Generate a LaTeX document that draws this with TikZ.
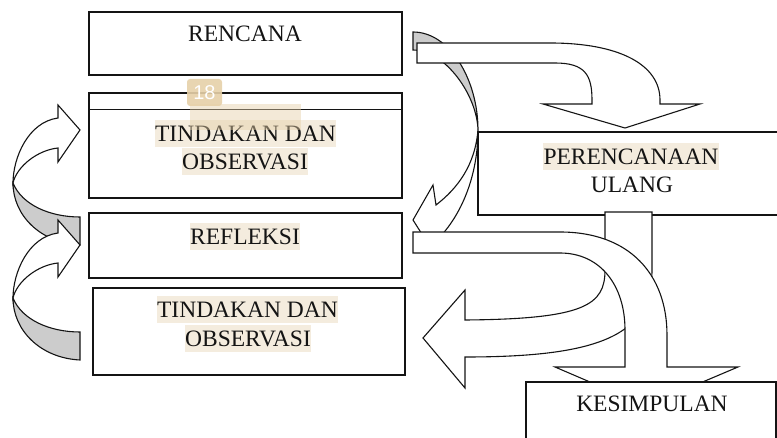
\documentclass[tikz,border=0pt]{standalone}
\usepackage{fontspec}
\setmainfont{Liberation Serif}
\newfontfamily\badgefont{Liberation Sans}
\definecolor{hl}{RGB}{244,236,222}
\definecolor{badgecol}{RGB}{230,208,168}
\definecolor{shade}{RGB}{204,204,204}
\definecolor{ink}{RGB}{20,20,20}
\begin{document}
\begin{tikzpicture}[x=1pt,y=-1pt,
  box/.style={draw=ink, line width=1.3pt, fill=white, rectangle, inner sep=0pt},
  arr/.style={draw=ink, line width=1.1pt, fill=white, line join=miter},
  back/.style={arr, fill=shade},
  lbl/.style={font=\fontsize{23.5}{28}\selectfont, text=ink, anchor=base, inner sep=0.5pt, text height=21.5pt, text depth=4.5pt},
  hlbl/.style={lbl, fill=hl}]
\useasboundingbox (0,0) rectangle (777,438);
\clip (0,0) rectangle (777,438);

% left boxes
\node[box, minimum width=313pt, minimum height=63pt] (rencana) at (245.5,43.5) {};
\node[box, minimum width=313pt, minimum height=105pt] (tind1) at (245.5,145.5) {};
\draw[line width=1.3pt, draw=ink] ([yshift=-17pt]tind1.north west) -- ([yshift=-17pt]tind1.north east);
\node[box, minimum width=313pt, minimum height=65pt] (refl) at (245.5,245.5) {};
\node[box, minimum width=312pt, minimum height=87pt] (tind2) at (249,331.5) {};

% left curved arrows
\foreach \dy in {0,115} {
  \begin{scope}[shift={(0,\dy)}]
    \draw[back] (13,183) .. controls (22,205) and (50,217) .. (80,217) -- (80,245)
      .. controls (40,243) and (13,215) .. (13,183) -- cycle;
    \draw[arr] (13,183) .. controls (13,158) and (28,122) .. (58,118) -- (58,105) -- (80,130)
      -- (58,162) -- (58,148) .. controls (38,150) and (17,166) .. (13,183) -- cycle;
  \end{scope}
}

% right boxes
\node[box, minimum width=322pt, minimum height=83pt] (peren) at (639,173.5) {};

% arrow from PERENCANAAN ULANG to TINDAKAN (with tail rectangle)
\draw[arr] (605,212) -- (652,212) -- (652,270) .. controls (652,335) and (600,357) .. (465,357)
  -- (465,388) -- (423,338) -- (465,290) -- (465,320)
  .. controls (585,319) and (605,305) .. (605,270) -- cycle;

% curved arrow from top to REFLEKSI: back (shaded) part
\draw[back] (413,32) .. controls (450,32) and (478,80) .. (478,130)
  .. controls (477,95) and (445,50) .. (413,50) -- cycle;

% arrow RENCANA -> PERENCANAAN ULANG
\draw[arr] (417,43) -- (550,43) .. controls (620,43) and (660,65) .. (660,100) -- (660,104)
  -- (700,104) -- (625,128) -- (543,104) -- (592,104) -- (592,100)
  .. controls (592,75) and (585,63) .. (555,63) -- (417,63) -- cycle;

% curved arrow front part
\draw[arr] (478,130) .. controls (478,175) and (462,215) .. (437,240) -- (432,250) -- (413,220)
  -- (433,185) -- (436,205) .. controls (458,188) and (475,165) .. (478,130) -- cycle;

% arrow REFLEKSI -> KESIMPULAN
\draw[arr] (413,232) -- (560,232) .. controls (630,232) and (667,275) .. (667,335) -- (667,367)
  -- (738,367) -- (646,406) -- (555,367) -- (625,367) -- (625,330)
  .. controls (625,285) and (600,253) .. (560,253) -- (413,253) -- cycle;

\node[box, minimum width=250pt, minimum height=78pt] (kesim) at (651,421) {};

% labels
\node[lbl]  (trencana) at (245,42) {RENCANA};
\node[hlbl] (ttind1a) at (245.5,142) {TINDAKAN DAN};
\node[hlbl] (ttind1b) at (245,170) {OBSERVASI};
\node[hlbl] (trefl) at (245,245) {REFLEKSI};
\node[hlbl] (ttind2a) at (247.5,318) {TINDAKAN DAN};
\node[hlbl] (ttind2b) at (248,347) {OBSERVASI};
\node[hlbl] (tperen) at (631,165) {PERENCANAAN};
\node[lbl]  (tulang) at (632,193) {ULANG};
\node[lbl]  (tkesim) at (652,412) {KESIMPULAN};

% annotation badge
\node[fill=badgecol, fill opacity=0.45, minimum width=111pt, minimum height=26pt, inner sep=0pt] (badgehl) at (245.5,117) {};
\node[fill=badgecol, fill opacity=0.9, text opacity=1, rounded corners=3pt, minimum width=35pt, minimum height=27pt, inner sep=0pt, text=white, font=\badgefont\fontsize{20}{22}\selectfont] (badge) at (204.5,92.5) {18};
\end{tikzpicture}
\end{document}
